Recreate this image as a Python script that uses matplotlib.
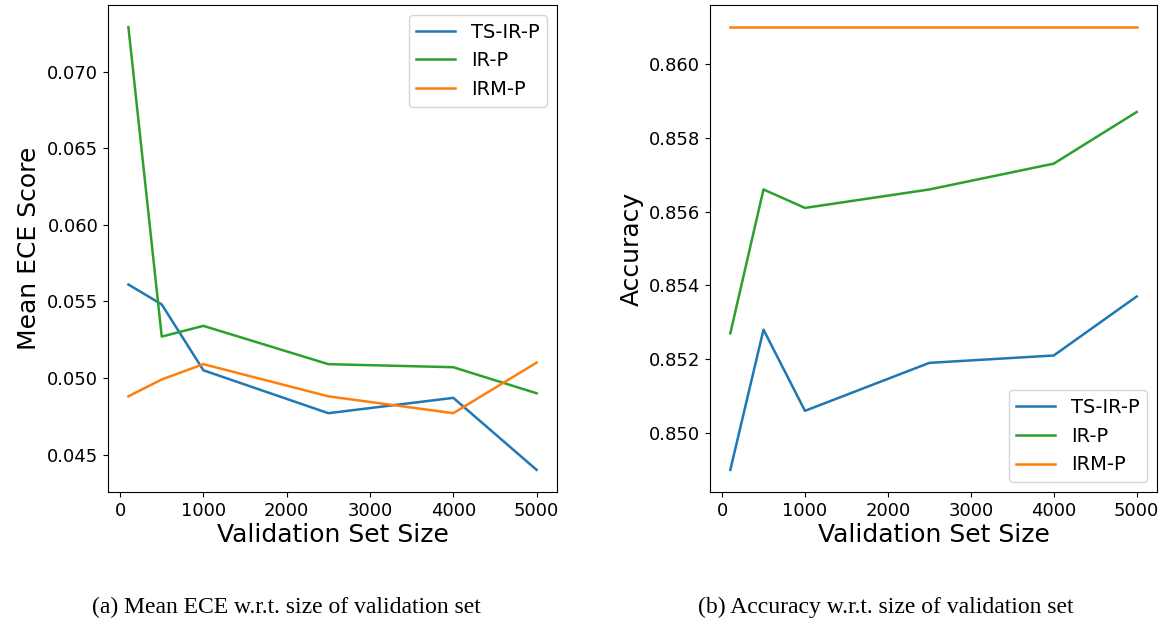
import matplotlib
matplotlib.use('Agg')
import matplotlib.pyplot as plt

sizes = [100, 500, 1000, 2500, 4000, 5000]

ece_ts_ir_p = [0.0561, 0.0548, 0.0505, 0.0477, 0.0487, 0.0440]
ece_ir_p = [0.0729, 0.0527, 0.0534, 0.0509, 0.0507, 0.0490]
ece_irm_p = [0.0488, 0.0499, 0.0509, 0.0488, 0.0477, 0.0510]

acc_ts_ir_p = [0.8490, 0.8528, 0.8506, 0.8519, 0.8521, 0.8537]
acc_ir_p = [0.8527, 0.8566, 0.8561, 0.8566, 0.8573, 0.8587]
acc_irm_p = [0.8610, 0.8610, 0.8610, 0.8610, 0.8610, 0.8610]

labels = ['TS-IR-P', 'IR-P', 'IRM-P']
colors = ['#1f77b4', '#2ca02c', '#ff7f0e']

fig = plt.figure(figsize=(11.64, 6.22), dpi=100)
ax1 = fig.add_axes([108/1164, 1-492/622, 449/1164, 487/622])
ax2 = fig.add_axes([710/1164, 1-492/622, 447/1164, 487/622])

for ys, lab, c in zip([ece_ts_ir_p, ece_ir_p, ece_irm_p], labels, colors):
    ax1.plot(sizes, ys, label=lab, color=c, linewidth=1.8)
for ys, lab, c in zip([acc_ts_ir_p, acc_ir_p, acc_irm_p], labels, colors):
    ax2.plot(sizes, ys, label=lab, color=c, linewidth=1.8)

ax1.set_yticks([0.045, 0.050, 0.055, 0.060, 0.065, 0.070])
ax2.set_yticks([0.850, 0.852, 0.854, 0.856, 0.858, 0.860])
for ax, ylab in [(ax1, 'Mean ECE Score'), (ax2, 'Accuracy')]:
    ax.set_xticks([0, 1000, 2000, 3000, 4000, 5000])
    ax.tick_params(labelsize=13)
    ax.set_xlabel('Validation Set Size', fontsize=18, labelpad=2)
    ax.set_ylabel(ylab, fontsize=18)

ax1.legend(loc='upper right', fontsize=14)
ax2.legend(loc='lower right', fontsize=14)

fig.text(286/1164, 1-607/622, '(a) Mean ECE w.r.t. size of validation set',
         family='Liberation Serif', fontsize=17, ha='center', va='center')
fig.text(886/1164, 1-607/622, '(b) Accuracy w.r.t. size of validation set',
         family='Liberation Serif', fontsize=17, ha='center', va='center')

fig.savefig('out.png', dpi=100)
